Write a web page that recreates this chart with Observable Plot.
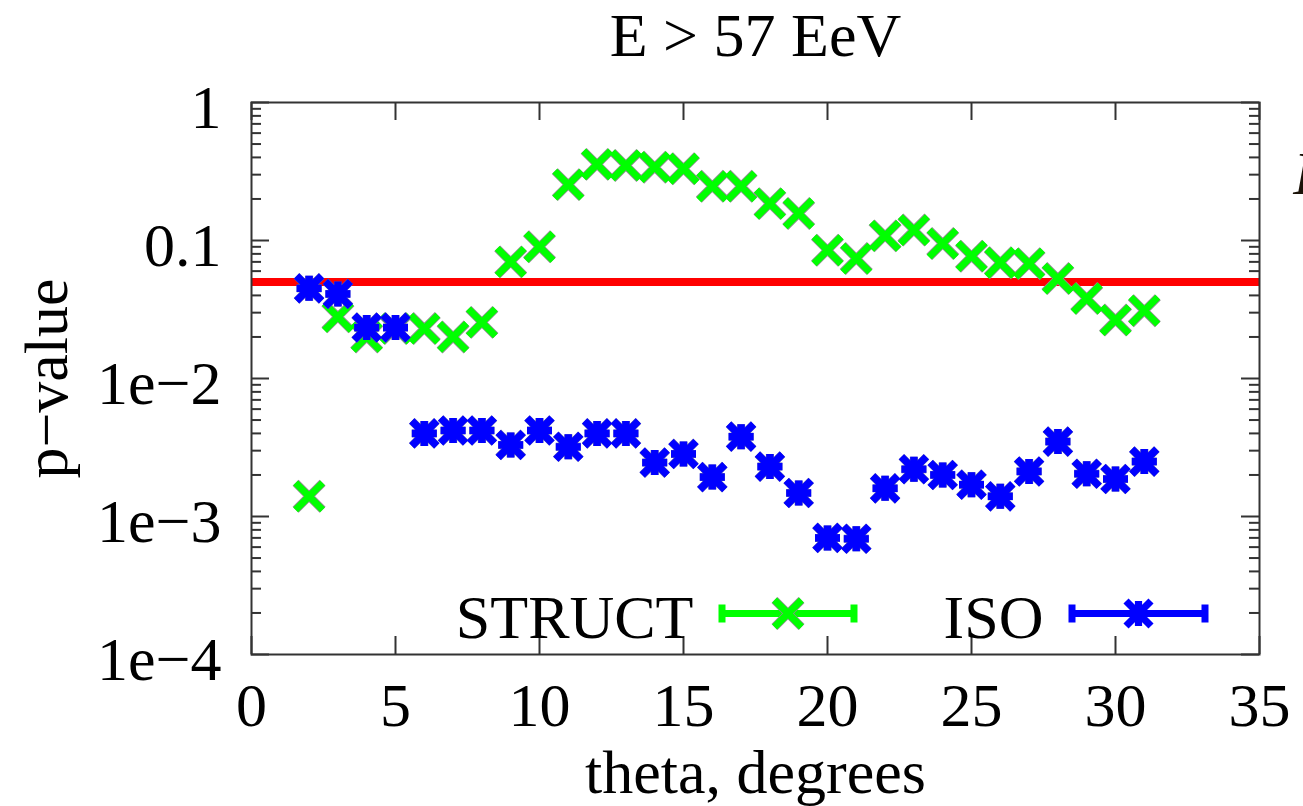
<!DOCTYPE html>
<html>
<head>
<meta charset="utf-8">
<script src="https://cdn.jsdelivr.net/npm/d3@7"></script>
<script src="https://cdn.jsdelivr.net/npm/@observablehq/plot@0.6"></script>
<style>
html, body { margin: 0; padding: 0; background: #fff; overflow: hidden; }
</style>
</head>
<body>
<div id="chart"></div>
<script>
// ---------- data ----------
const theta = [2, 3, 4, 5, 6, 7, 8, 9, 10, 11, 12, 13, 14, 15, 16, 17, 18, 19, 20, 21, 22, 23, 24, 25, 26, 27, 28, 29, 30, 31];
const structP = [0.0014, 0.028, 0.020, 0.023, 0.023, 0.020, 0.0255, 0.070, 0.090, 0.254, 0.356, 0.35, 0.34, 0.331,
                 0.247, 0.247, 0.185, 0.157, 0.085, 0.074, 0.108, 0.119, 0.095, 0.077, 0.069, 0.068, 0.053, 0.038, 0.0265, 0.031];
const isoP = [0.045, 0.041, 0.0234, 0.0234, 0.0040, 0.0042, 0.0042, 0.0033, 0.0042, 0.0032, 0.0040, 0.0040, 0.00246, 0.00284,
              0.00193, 0.00379, 0.0023, 0.00148, 0.00070, 0.00069, 0.0016, 0.0022, 0.0020, 0.0017, 0.0014, 0.00212, 0.00349, 0.00204, 0.00187, 0.0025];
const threshold = 0.05;
const seriesNames = ["STRUCT", "ISO"];
const seriesColors = ["#00ff00", "#0000ff"];
const xTicks = [0, 5, 10, 15, 20, 25, 30, 35];
const xTickLabels = ["0", "5", "10", "15", "20", "25", "30", "35"];
const yTicks = [1, 0.1, 0.01, 0.001, 0.0001];
const yTickLabels = ["1", "0.1", "1e\u22122", "1e\u22123", "1e\u22124"];
const titleText = "E > 57 EeV";
const xTitle = "theta, degrees";
const yTitle = "p\u2212value";

// ---------- layout ----------
const W = 1303, H = 806;
const M = {top: 102, right: 44, bottom: 152, left: 251};
const FW = W - M.left - M.right;
const FH = H - M.top - M.bottom;
const MAJ = 18, MIN = 10;
const ink = "#333";
const FS = 62;

const yMinor = [];
for (const k of [-4, -3, -2, -1]) for (let m = 2; m <= 9; m++) yMinor.push(+(m * Math.pow(10, k)).toPrecision(3));

const struct = theta.map((t, i) => ({theta: t, p: structP[i]}));
const iso = theta.map((t, i) => ({theta: t, p: isoP[i]}));

// ---------- symbols ----------
const crossSym = {draw(ctx, size) {
  const r = Math.sqrt(size / Math.PI);
  ctx.moveTo(-r, -r); ctx.lineTo(r, r);
  ctx.moveTo(-r, r); ctx.lineTo(r, -r);
}};
const starSym = {draw(ctx, size) {
  const r = Math.sqrt(size / Math.PI);
  ctx.moveTo(-r, -r); ctx.lineTo(r, r);
  ctx.moveTo(-r, r); ctx.lineTo(r, -r);
  ctx.moveTo(-r, 0); ctx.lineTo(r, 0);
  ctx.moveTo(0, -r); ctx.lineTo(0, r);
}};
const keySym = (half, cap) => ({draw(ctx) {
  ctx.moveTo(-half, 0); ctx.lineTo(half, 0);
  ctx.moveTo(-half, -cap); ctx.lineTo(-half, cap);
  ctx.moveTo(half, -cap); ctx.lineTo(half, cap);
}});

const CROSS_R = 13.5, STAR_R = 12.5;

const serif = '"Liberation Serif", "Times New Roman", Times, serif';

const chart = Plot.plot({
  width: W, height: H,
  marginTop: M.top, marginRight: M.right, marginBottom: M.bottom, marginLeft: M.left,
  x: {domain: [0, 35], axis: null},
  y: {type: "log", domain: [1e-4, 1], axis: null},
  style: {fontFamily: serif, fontSize: FS + "px", background: "white", color: "black"},
  marks: [
    // ticks (inward)
    Plot.tickY(yTicks, {y: d => d, insetRight: FW - MAJ, stroke: ink, strokeWidth: 2}),
    Plot.tickY(yTicks, {y: d => d, insetLeft: FW - MAJ, stroke: ink, strokeWidth: 2}),
    Plot.tickY(yMinor, {y: d => d, insetRight: FW - MIN, stroke: ink, strokeWidth: 2}),
    Plot.tickY(yMinor, {y: d => d, insetLeft: FW - MIN, stroke: ink, strokeWidth: 2}),
    Plot.tickX(xTicks, {x: d => d, insetBottom: FH - MAJ, stroke: ink, strokeWidth: 2}),
    Plot.tickX(xTicks, {x: d => d, insetTop: FH - MAJ, stroke: ink, strokeWidth: 2}),

    // threshold
    Plot.ruleY([threshold], {stroke: "#ff0000", strokeWidth: 8}),

    // STRUCT
    Plot.dot(struct, {x: "theta", y: "p", symbol: crossSym, r: CROSS_R, fill: "none", stroke: "#8f8f8f", strokeWidth: 8.4}),
    Plot.dot(struct, {x: "theta", y: "p", symbol: crossSym, r: CROSS_R, fill: "none", stroke: seriesColors[0], strokeWidth: 6.8}),
    // ISO
    Plot.dot(iso, {x: "theta", y: "p", symbol: starSym, r: STAR_R, fill: "none", stroke: "#5a5ab0", strokeWidth: 8}),
    Plot.dot(iso, {x: "theta", y: "p", symbol: starSym, r: STAR_R, fill: "none", stroke: seriesColors[1], strokeWidth: 7.2}),

    // frame
    Plot.frame({stroke: ink, strokeWidth: 2}),

    // tick labels
    Plot.text(yTicks, {y: d => d, text: (d, i) => yTickLabels[i], frameAnchor: "left", textAnchor: "end",
      lineAnchor: "bottom", dx: -30, dy: 25, fontSize: FS, fill: "black"}),
    Plot.text(xTicks, {x: d => d, text: (d, i) => xTickLabels[i], frameAnchor: "bottom", textAnchor: "middle",
      lineAnchor: "bottom", dy: 71, fontSize: FS, fill: "black"}),

    // titles
    Plot.text([titleText], {frameAnchor: "top", lineAnchor: "bottom", dy: -47, fontSize: FS, fill: "black"}),
    Plot.text([xTitle], {frameAnchor: "bottom", lineAnchor: "bottom", dy: 138, fontSize: FS, fill: "black"}),
    Plot.text([yTitle], {frameAnchor: "left", rotate: -90, lineAnchor: "bottom", textAnchor: "middle", dx: -185, fontSize: FS, fill: "black"}),

    // legend
    Plot.text([seriesNames[0]], {frameAnchor: "bottom-left", textAnchor: "end", lineAnchor: "bottom", dx: 442, dy: -17, fontSize: FS, fill: "black"}),
    Plot.dot([0], {frameAnchor: "bottom-left", dx: 536.5, dy: -41, symbol: keySym(66, 9), r: 1, fill: "none", stroke: seriesColors[0], strokeWidth: 7}),
    Plot.dot([0], {frameAnchor: "bottom-left", dx: 536.5, dy: -41, symbol: crossSym, r: CROSS_R, fill: "none", stroke: "#8f8f8f", strokeWidth: 8.4}),
    Plot.dot([0], {frameAnchor: "bottom-left", dx: 536.5, dy: -41, symbol: crossSym, r: CROSS_R, fill: "none", stroke: seriesColors[0], strokeWidth: 6.8}),

    Plot.text([seriesNames[1]], {frameAnchor: "bottom-left", textAnchor: "end", lineAnchor: "bottom", dx: 792, dy: -17, fontSize: FS, fill: "black"}),
    Plot.dot([0], {frameAnchor: "bottom-left", dx: 887, dy: -41, symbol: keySym(66.5, 9), r: 1, fill: "none", stroke: seriesColors[1], strokeWidth: 7}),
    Plot.dot([0], {frameAnchor: "bottom-left", dx: 887, dy: -41, symbol: starSym, r: STAR_R, fill: "none", stroke: seriesColors[1], strokeWidth: 7.2}),

    // clipped glyph of the neighbouring panel at the right edge
    Plot.text(["E"], {frameAnchor: "top-right", textAnchor: "start", lineAnchor: "bottom", dx: 34, dy: 91, fontSize: FS, fontStyle: "italic", fill: "#1a1208"})
  ]
});

document.getElementById("chart").appendChild(chart);
</script>
</body>
</html>
